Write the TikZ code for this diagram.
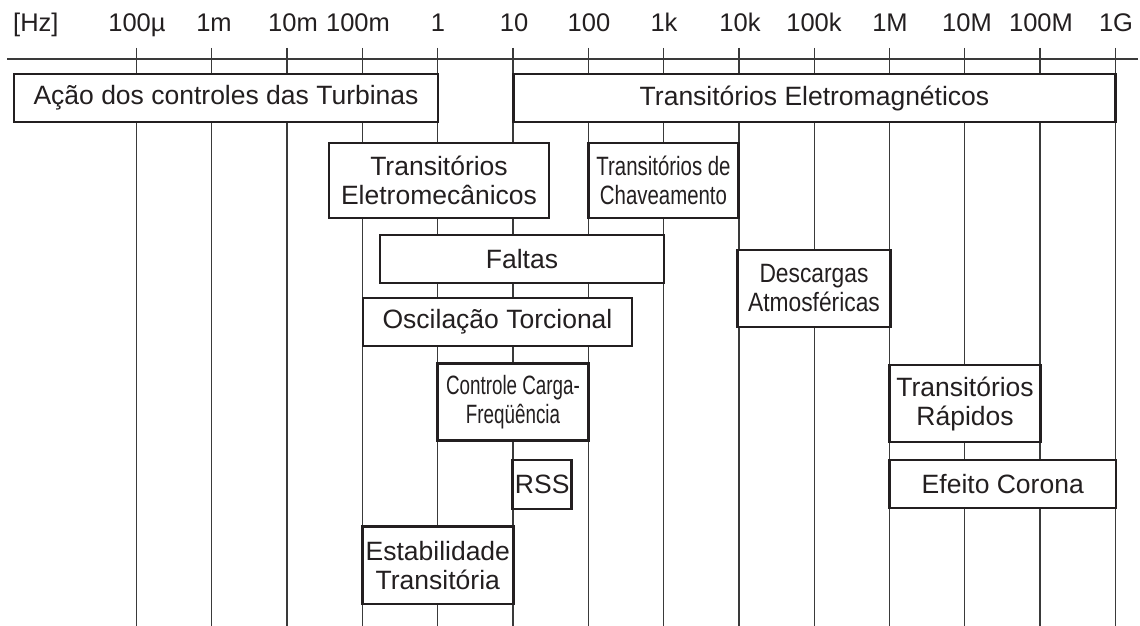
\documentclass[tikz,border=0pt]{standalone}
\usepackage{fontspec}
\setmainfont{Liberation Sans}
\newfontfamily\condA[FakeStretch=0.77]{Liberation Sans}
\newfontfamily\condB[FakeStretch=0.71]{Liberation Sans}
\newfontfamily\condC[FakeStretch=0.86]{Liberation Sans}
\definecolor{ink}{HTML}{231F20}
\definecolor{gridc}{HTML}{3A3A3A}
\newcommand{\boxfont}{\fontsize{26.5}{29}\selectfont}
\newcommand{\axfont}{\fontsize{25.5}{30}\selectfont}
\begin{document}
\begin{tikzpicture}[x=1pt,y=-1pt,
  box/.style={draw=ink, line width=2.8pt, fill=white, inner sep=0pt,
    align=center, text=ink, font=\boxfont},
  gridline/.style={draw=gridc, line width=1.3pt},
  axlabel/.style={inner sep=0pt, text=ink, font=\axfont, anchor=base}]
\useasboundingbox (0,0) rectangle (1140,626);
\fill[white] (0,0) rectangle (1140,626);
% grid
\foreach \i in {0,...,13}{
  \draw[gridline] ({136.5+75.3*\i},48) -- ({136.5+75.3*\i},626);
}
\draw[gridline] (7,59) -- (1138,59);
% axis labels
\node[axlabel, anchor=base west] (hz) at (13,31.5) {[Hz]};
\node[axlabel] (l0) at (137,31.5) {100µ};
\node[axlabel] (l1) at (214,31.5) {1m};
\node[axlabel] (l2) at (293,31.5) {10m};
\node[axlabel] (l3) at (358,31.5) {100m};
\node[axlabel] (l4) at (438,31.5) {1};
\node[axlabel] (l5) at (514,31.5) {10};
\node[axlabel] (l6) at (589,31.5) {100};
\node[axlabel] (l7) at (664,31.5) {1k};
\node[axlabel] (l8) at (740,31.5) {10k};
\node[axlabel] (l9) at (814,31.5) {100k};
\node[axlabel] (l10) at (890,31.5) {1M};
\node[axlabel] (l11) at (967,31.5) {10M};
\node[axlabel] (l12) at (1041,31.5) {100M};
\node[axlabel] (l13) at (1116,31.5) {1G};
% boxes
\node[box, minimum width=424pt, minimum height=48pt] (acao) at (226,98) {Ação dos controles das Turbinas};
\node[box, minimum width=602pt, minimum height=48pt] (emag) at (814.5,98) {Transitórios Eletromagnéticos};
\node[box, minimum width=220pt, minimum height=75pt] (emec) at (439,180.5) {Transitórios\\Eletromecânicos};
\node[box, minimum width=150pt, minimum height=75pt] (chav) at (663.5,180.5) {\condA Transitórios de\\\condA Chaveamento};
\node[box, minimum width=284pt, minimum height=48pt] (faltas) at (522,259) {Faltas};
\node[box, minimum width=269pt, minimum height=48pt] (osc) at (497.5,322) {Oscilação Torcional};
\node[box, minimum width=153.5pt, minimum height=77pt] (desc) at (814,288.5) {\condC Descargas\\\condC Atmosféricas};
\node[box, minimum width=151.5pt, minimum height=77pt] (rap) at (965,403.5) {Transitórios\\Rápidos};
\node[box, minimum width=226.5pt, minimum height=48pt] (corona) at (1002.75,484) {Efeito Corona};
\node[box, minimum width=150.6pt, minimum height=77.7pt] (ccf) at (513,402) {\condB Controle Carga-\\\condB Freqüência};
\node[box, minimum width=59pt, minimum height=49pt] (rss) at (542.2,484.5) {RSS};
\node[box, minimum width=151pt, minimum height=77.3pt] (estab) at (437.8,565.3) {Estabilidade\\Transitória};
\end{tikzpicture}
\end{document}
